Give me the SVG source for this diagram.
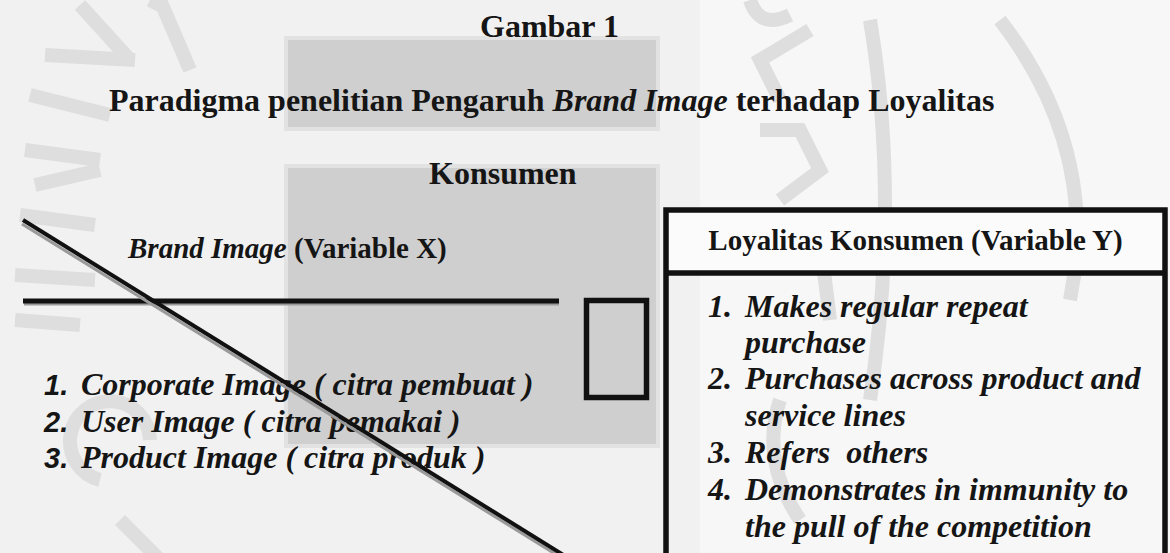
<svg xmlns="http://www.w3.org/2000/svg" width="1170" height="553" viewBox="0 0 1170 553">
<style>
.t{font-family:"Liberation Serif","Times New Roman",serif;font-weight:bold;fill:#151515;}
.i{font-style:italic;}
.s{font-family:"Liberation Sans",Arial,sans-serif;font-weight:bold;font-style:italic;fill:#151515;}
.wm{fill:none;stroke:#dedede;stroke-width:14;}
.panel{fill:#cfcfcf;stroke:#e2e2e2;stroke-width:4;}
.box{fill:none;stroke:#111;stroke-width:5.5;}
.ln{stroke:#111;fill:none;}
.sh{stroke:#9a9a9a;fill:none;}
</style>
<rect x="0" y="0" width="1170" height="553" fill="#f1f1f1"/>
<rect x="700" y="0" width="470" height="553" fill="#f7f7f7"/>
<g id="watermark">
<path class="wm" d="M80 5 L130 60 M45 55 L135 60 M30 95 L110 115 M25 150 L100 160 M35 185 L100 170 M20 215 L95 225 M15 275 L95 280 M15 320 L80 325"/>
<path class="wm" d="M150 0 L160 5 M160 0 L190 70"/>
<path class="wm" d="M200 600 L120 520 M100 480 A40 40 0 1 1 150 440"/>
<path class="wm" d="M750 0 Q760 30 790 15 M810 30 L760 60 L780 100 M760 130 L800 130 L820 170 L780 200 M820 240 L830 320 M780 400 Q760 460 800 520 M870 20 Q900 200 870 400"/>
<path class="wm" d="M1000 20 Q1100 150 1070 300"/>
</g>
<g id="panels">
<rect class="panel" x="286" y="38" width="372" height="91"/>
<rect class="panel" x="286" y="166" width="372" height="280"/>
</g>
<g id="title">
<text class="t" x="480" y="37" font-size="32">Gambar 1</text>
<text class="t" x="109" y="111" font-size="32">Paradigma penelitian Pengaruh <tspan class="i">Brand Image</tspan> terhadap Loyalitas</text>
<text class="t" x="429" y="184" font-size="32">Konsumen</text>
</g>
<g id="node-brand-image">
<text class="t" x="128" y="258" font-size="29"><tspan class="i">Brand Image</tspan> (Variable X)</text>
<text class="s" x="44" y="395" font-size="29">1.</text>
<text class="t i" x="81" y="395" font-size="32">Corporate Image ( citra pembuat )</text>
<text class="s" x="44" y="432" font-size="29">2.</text>
<text class="t i" x="81" y="432" font-size="32">User Image ( citra pemakai )</text>
<text class="s" x="44" y="468" font-size="29">3.</text>
<text class="t i" x="81" y="468" font-size="32">Product Image ( citra produk )</text>
</g>
<g id="node-small-box">
<rect class="box" x="586.5" y="300.5" width="60" height="97"/>
</g>
<g id="node-loyalitas">
<rect x="666" y="210" width="499" height="63" fill="#fbfbfb"/>
<path class="box" d="M666 560 V210 H1165 V560 M666 273 H1165"/>
<text class="t" x="915.5" y="250" font-size="29" text-anchor="middle">Loyalitas Konsumen (Variable Y)</text>
<g class="t i" font-size="32">
<text x="708" y="317">1.</text><text x="745" y="317">Makes regular repeat</text>
<text x="745" y="353">purchase</text>
<text x="708" y="389">2.</text><text x="745" y="389">Purchases across product and</text>
<text x="745" y="426">service lines</text>
<text x="708" y="463">3.</text><text x="745" y="463" xml:space="preserve">Refers  others</text>
<text x="708" y="500">4.</text><text x="745" y="500">Demonstrates in immunity to</text>
<text x="745" y="537">the pull of the competition</text>
</g>
</g>
<g id="connectors">
<line class="sh" x1="24" y1="304" x2="559" y2="304" stroke-width="3"/>
<line class="ln" x1="23" y1="301" x2="559" y2="301" stroke-width="5"/>
<line class="sh" x1="22" y1="224" x2="565" y2="560" stroke-width="3"/>
<line class="ln" x1="23" y1="220" x2="565" y2="556" stroke-width="4"/>
</g>
</svg>
